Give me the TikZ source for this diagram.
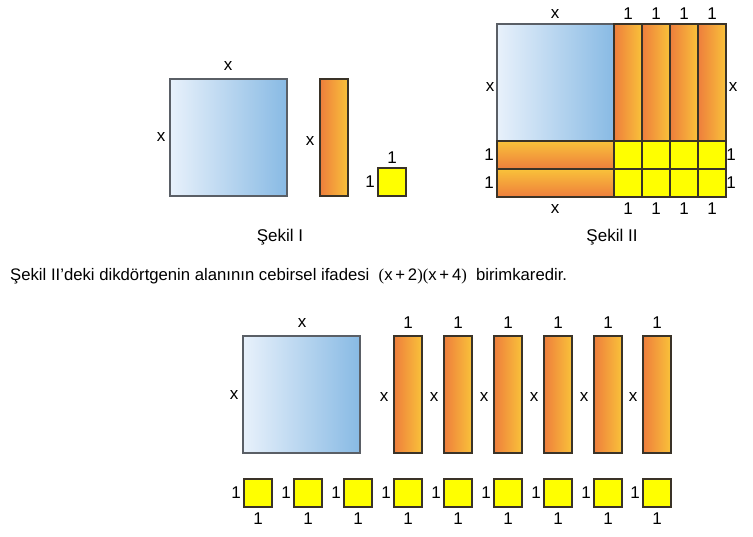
\documentclass[tikz,border=0pt]{standalone}
\usepackage{fontspec}
\setmainfont{Liberation Sans}
\newfontfamily\serifparen{Liberation Serif}
\definecolor{blueL}{HTML}{E8F1FB}
\definecolor{blueR}{HTML}{88BAE4}
\definecolor{orL}{HTML}{EE7E3C}
\definecolor{orR}{HTML}{F9C23A}
\definecolor{edge}{HTML}{3A3328}
\definecolor{blueedge}{HTML}{5A5F66}
\definecolor{unitY}{HTML}{FFFF00}
\tikzset{
  tile/.style={inner sep=0pt, outer sep=0pt, anchor=north west, line width=1.2pt},
  bigsq/.style={tile, draw=blueedge, left color=blueL, right color=blueR, minimum width=117pt, minimum height=117pt},
  vbar/.style={tile, draw=edge, left color=orL, right color=orR, minimum width=28pt, minimum height=117pt},
  hbar/.style={tile, draw=edge, top color=orR, bottom color=orL, minimum width=117pt, minimum height=28pt},
  unitsq/.style={tile, draw=edge, fill=unitY, minimum width=28pt, minimum height=28pt},
  lbl/.style={inner sep=0pt, font=\fontsize{17}{19}\selectfont},
  captxt/.style={inner sep=0pt, font=\fontsize{17}{19}\selectfont},
  stmttxt/.style={inner sep=0pt, font=\fontsize{16.7}{19}\selectfont},
}
\begin{document}
\begin{tikzpicture}[x=1pt,y=-1pt]
\useasboundingbox (0,0) rectangle (753,536);
% ---------- Sekil I ----------
\node[bigsq] (I-sq) at (170,79) {};
\node[lbl] (I-sq-t) at (228,66) {x};
\node[lbl] (I-sq-l) at (161,137) {x};
\node[vbar] (I-bar) at (320,79) {};
\node[lbl] (I-bar-l) at (310,141) {x};
\node[unitsq] (I-u) at (378,168) {};
\node[lbl] (I-u-t) at (392,158) {1};
\node[lbl] (I-u-l) at (370,182) {1};
\node[captxt] (capI) at (280,237) {Şekil I};
% ---------- Sekil II ----------
\node[bigsq] (II-sq) at (497,24) {};
\foreach \i/\xx in {1/614,2/642,3/670,4/698}{
  \node[vbar] (II-v\i) at (\xx,24) {};
  \node[unitsq] (II-ua\i) at (\xx,141) {};
  \node[unitsq] (II-ub\i) at (\xx,169) {};
  \node[lbl] (II-t\i) at (\xx+14,14) {1};
  \node[lbl] (II-b\i) at (\xx+14,209) {1};
}
\node[hbar] (II-h1) at (497,141) {};
\node[hbar] (II-h2) at (497,169) {};
\node[lbl] (II-tx) at (555,14) {x};
\node[lbl] (II-bx) at (555,209) {x};
\node[lbl] (II-lx) at (490,87) {x};
\node[lbl] (II-rx) at (733,87) {x};
\node[lbl] (II-l1) at (489,155) {1};
\node[lbl] (II-l2) at (489,183) {1};
\node[lbl] (II-r1) at (731,155) {1};
\node[lbl] (II-r2) at (731,183) {1};
\node[captxt] (capII) at (612,237) {Şekil II};
% ---------- statement ----------
\node[stmttxt, anchor=west] (stmt) at (10,276) {Şekil II’deki dikdörtgenin alanının cebirsel ifadesi \ {\serifparen(}x\,+\,2{\serifparen)(}x\,+\,4{\serifparen)} \ birimkaredir.};
% ---------- bottom set ----------
\node[bigsq] (B-sq) at (243,336) {};
\node[lbl] (B-sq-t) at (302,323) {x};
\node[lbl] (B-sq-l) at (234,395) {x};
\foreach \i/\xx in {1/394,2/444,3/494,4/544,5/594,6/643}{
  \node[vbar] (B-v\i) at (\xx,336) {};
  \node[lbl] (B-v\i-t) at (\xx+14,323) {1};
  \node[lbl] (B-v\i-l) at (\xx-10,397) {x};
}
\foreach \i/\xx in {1/244,2/294,3/344,4/394,5/444,6/494,7/544,8/594,9/643}{
  \node[unitsq] (B-u\i) at (\xx,479) {};
  \node[lbl] (B-u\i-l) at (\xx-8,493) {1};
  \node[lbl] (B-u\i-b) at (\xx+14,519) {1};
}
\end{tikzpicture}
\end{document}
